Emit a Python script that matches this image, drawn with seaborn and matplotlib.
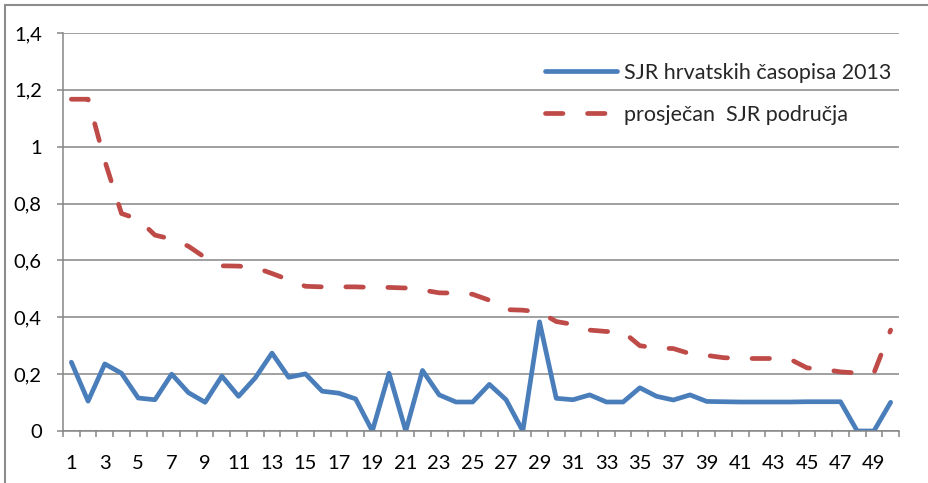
import matplotlib
matplotlib.use("Agg")
import matplotlib.pyplot as plt
import seaborn as sns
import pandas as pd
from matplotlib.lines import Line2D
from matplotlib.ticker import FixedLocator, FuncFormatter

categories = list(range(1, 51))
sjr_hr = [0.242, 0.105, 0.236, 0.203, 0.116, 0.110, 0.200, 0.135, 0.101, 0.193,
          0.122, 0.187, 0.274, 0.189, 0.201, 0.140, 0.133, 0.113, 0.0, 0.203,
          0.0, 0.213, 0.127, 0.102, 0.102, 0.164, 0.110, 0.0, 0.384, 0.115,
          0.110, 0.127, 0.102, 0.102, 0.152, 0.122, 0.109, 0.127, 0.104, 0.103,
          0.102, 0.102, 0.102, 0.102, 0.103, 0.103, 0.103, 0.0, 0.0, 0.101]
sjr_avg = [1.167, 1.167, 0.950, 0.765, 0.745, 0.689, 0.675, 0.650, 0.610, 0.581,
           0.580, 0.575, 0.554, 0.532, 0.509, 0.507, 0.507, 0.507, 0.505, 0.505,
           0.503, 0.496, 0.486, 0.485, 0.481, 0.460, 0.427, 0.425, 0.419, 0.385,
           0.375, 0.355, 0.350, 0.349, 0.300, 0.292, 0.290, 0.272, 0.266, 0.258,
           0.255, 0.255, 0.255, 0.252, 0.222, 0.217, 0.208, 0.204, 0.204, 0.355]
series_labels = ["SJR hrvatskih časopisa 2013", "prosječan  SJR područja"]
x_tick_labels = [str(i) for i in range(1, 51, 2)]
y_ticks = [0, 0.2, 0.4, 0.6, 0.8, 1.0, 1.2, 1.4]

BLUE = "#4A7EBB"
RED = "#BE4B48"
GRAY = "#868686"
LW = 3.4
DASH = (3.7, 5.2)

sns.set_style("white")
plt.rcParams['font.family'] = ['Lato', 'DejaVu Sans']

W, H = 929, 483
fig = plt.figure(figsize=(W / 100, H / 100), dpi=100)
ax = fig.add_axes([63 / W, 1 - 431 / H, (899 - 63) / W, (431 - 33) / H])

df = pd.DataFrame({
    "x": categories * 2,
    "y": sjr_hr + sjr_avg,
    "s": [series_labels[0]] * len(categories) + [series_labels[1]] * len(categories),
})
sns.lineplot(data=df, x="x", y="y", hue="s", style="s",
             palette=[BLUE, RED], dashes=["", DASH], linewidth=LW,
             ax=ax, legend=False)
for ln in ax.lines:
    ln.set_dash_capstyle("round")
    ln.set_solid_capstyle("round")
    ln.set_solid_joinstyle("round")
    ln.set_dash_joinstyle("round")

ax.set_xlim(0.5, 50.5)
ax.set_ylim(0, 1.4)
ax.set_xlabel("")
ax.set_ylabel("")

ax.xaxis.set_major_locator(FixedLocator(list(range(1, 51, 2))))
ax.set_xticklabels(x_tick_labels)
ax.xaxis.set_minor_locator(FixedLocator([i + 0.5 for i in range(0, 51)]))
ax.tick_params(axis="x", which="major", length=0, pad=17, labelsize=14.5, labelcolor="black")
ax.tick_params(axis="x", which="minor", length=4.3, width=1.1, color=GRAY, direction="out", bottom=True)

ax.yaxis.set_major_locator(FixedLocator(y_ticks))
ax.yaxis.set_major_formatter(FuncFormatter(lambda v, p: ("%g" % round(v, 1)).replace(".", ",")))
ax.tick_params(axis="y", which="major", length=4.3, width=1.1, color=GRAY, direction="out",
               left=True, pad=11, labelsize=14.5, labelcolor="black")

ax.yaxis.grid(True, color=GRAY, linewidth=1.1)
ax.set_axisbelow(True)
for s in ["top", "right"]:
    ax.spines[s].set_visible(False)
for s in ["left", "bottom"]:
    ax.spines[s].set_color(GRAY)
    ax.spines[s].set_linewidth(1.1)

handles = [
    Line2D([], [], color=BLUE, linewidth=LW, solid_capstyle="round"),
    Line2D([], [], color=RED, linewidth=LW, dashes=DASH, dash_capstyle="round"),
]
ax.legend(handles, series_labels, loc="upper left",
          bbox_to_anchor=(545 / W, 1 - 63 / H), bbox_transform=fig.transFigure,
          frameon=False, fontsize=15.5, handlelength=3.35, handletextpad=0.3,
          borderpad=0, borderaxespad=0, labelspacing=1.02)

fig.add_artist(Line2D([5 / W, 5 / W], [0, 1 - 5 / H], transform=fig.transFigure,
                      color="#8C8C8C", linewidth=1.5))
fig.add_artist(Line2D([5 / W, 1], [1 - 5 / H, 1 - 5 / H], transform=fig.transFigure,
                      color="#8C8C8C", linewidth=1.5))

fig.savefig("out.png", dpi=100)
